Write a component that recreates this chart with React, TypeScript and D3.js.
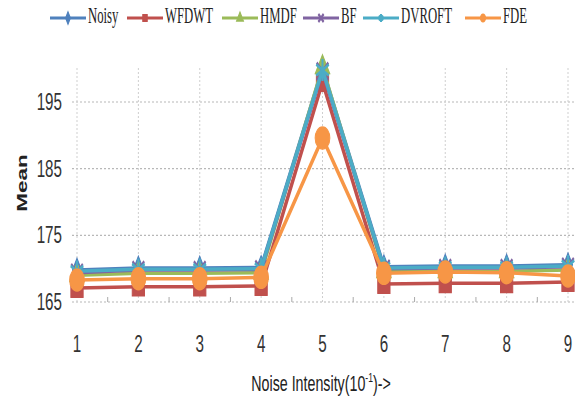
import React from "react";
import * as d3 from "d3";

const xs = [1, 2, 3, 4, 5, 6, 7, 8, 9];
const seriesNames = ["Noisy", "WFDWT", "HMDF", "BF", "DVROFT", "FDE"];
const noisy = [169.8, 170.1, 170.1, 170.2, 200.0, 170.3, 170.4, 170.4, 170.6];
const wfdwt = [167.1, 167.3, 167.3, 167.4, 198.0, 167.7, 167.8, 167.8, 168.0];
const hmdf = [169.0, 169.3, 169.3, 169.4, 200.2, 169.6, 169.6, 169.6, 169.8];
const bf = [169.4, 169.8, 169.8, 169.9, 199.6, 170.0, 170.1, 170.1, 170.3];
const dvroft = [169.6, 169.9, 169.9, 170.0, 199.8, 170.1, 170.2, 170.2, 170.4];
const fde = [168.3, 168.5, 168.5, 168.7, 189.6, 169.3, 169.5, 169.4, 168.9];
const yTicks = [165, 175, 185, 195];
const colors = ["#4F81BD", "#C0504D", "#9BBB59", "#8064A2", "#4BACC6", "#F79646"];
const legendX = [50, 127, 222, 303, 363, 465];

const allSeries = [noisy, wfdwt, hmdf, bf, dvroft, fde];

const W = 575;
const H = 410;
const SY = 1.5;

const x = d3.scaleLinear().domain([1, 9]).range([77, 568]);
const y = d3.scaleLinear().domain([165, 195]).range([302, 102]);

function markerPath(i: number, size: number): string {
  const types = [d3.symbolDiamond, d3.symbolSquare, d3.symbolTriangle, d3.symbolX, d3.symbolAsterisk, d3.symbolCircle];
  return d3.symbol().type(types[i]).size(size)() as string;
}

function Marker({ i, cx, cy, size }: { i: number; cx: number; cy: number; size: number }) {
  const c = colors[i];
  const stroked = i === 3 || i === 4;
  return (
    <path
      d={markerPath(i, size)}
      transform={`translate(${cx},${cy}) scale(1,${SY})`}
      fill={stroked ? "none" : c}
      stroke={c}
      strokeWidth={stroked ? 2 : 1}
    />
  );
}

const markerSizes = [70, 150, 90, 90, 150, 170];

export default function App() {
  const line = d3
    .line<number>()
    .x((_, j) => x(xs[j]))
    .y((v) => y(v));
  const minor = xs.slice(0, -1).map((v) => v + 0.5);
  return (
    <svg width={W} height={H} style={{ position: "absolute", left: 0, top: 0, background: "#fff" }}>
      {yTicks.map((t) => (
        <line key={"g" + t} x1={72} x2={575} y1={y(t)} y2={y(t)} stroke="#b8b8b8" strokeWidth={1.2} strokeDasharray="2,2" />
      ))}
      {xs.map((v) => (
        <line key={"v" + v} x1={x(v)} x2={x(v)} y1={68} y2={302} stroke="#cfcfcf" strokeWidth={1} strokeDasharray="2,2" />
      ))}
      {minor.map((v) => (
        <line key={"m" + v} x1={x(v)} x2={x(v)} y1={297} y2={302} stroke="#aaa" strokeWidth={1} />
      ))}
      {yTicks.map((t) => (
        <text
          key={"yt" + t}
          transform={`translate(62,${y(t) + 8}) scale(0.95,${SY})`}
          textAnchor="end"
          fontFamily="Liberation Sans, Arial, sans-serif"
          fontSize={16}
          fill="#333"
        >
          {t}
        </text>
      ))}
      {xs.map((v) => (
        <text
          key={"xt" + v}
          transform={`translate(${x(v)},${352}) scale(0.95,${SY})`}
          textAnchor="middle"
          fontFamily="Liberation Sans, Arial, sans-serif"
          fontSize={16}
          fill="#333"
        >
          {v}
        </text>
      ))}
      <text
        transform={`translate(321,${391}) scale(0.95,${SY})`}
        textAnchor="middle"
        fontFamily="Liberation Sans, Arial, sans-serif"
        fontSize={15}
        fill="#222"
      >
        Noise Intensity(10
        <tspan fontSize={9} dy={-6}>-1</tspan>
        <tspan dy={6}>)-&gt;</tspan>
      </text>
      <text
        transform={`translate(27,183) rotate(-90) scale(${SY},1)`}
        textAnchor="middle"
        fontFamily="Liberation Sans, Arial, sans-serif"
        fontWeight="bold"
        fontSize={15}
        fill="#222"
      >
        Mean
      </text>
      {allSeries.map((s, i) => (
        <g key={"s" + i}>
          <path d={line(s) as string} fill="none" stroke={colors[i]} strokeWidth={3.5} />
          {s.map((v, j) => (
            <Marker key={j} i={i} cx={x(xs[j])} cy={y(v)} size={markerSizes[i]} />
          ))}
        </g>
      ))}
      {seriesNames.map((n, i) => (
        <g key={"l" + i}>
          <line x1={legendX[i]} x2={legendX[i] + 36} y1={18} y2={18} stroke={colors[i]} strokeWidth={3} />
          <Marker i={i} cx={legendX[i] + 18} cy={18} size={20} />
          <text
            transform={`translate(${legendX[i] + 38},${23}) scale(0.85,${SY})`}
            fontFamily="Liberation Serif, Times New Roman, serif"
            fontSize={15}
            fill="#222"
          >
            {n}
          </text>
        </g>
      ))}
    </svg>
  );
}
